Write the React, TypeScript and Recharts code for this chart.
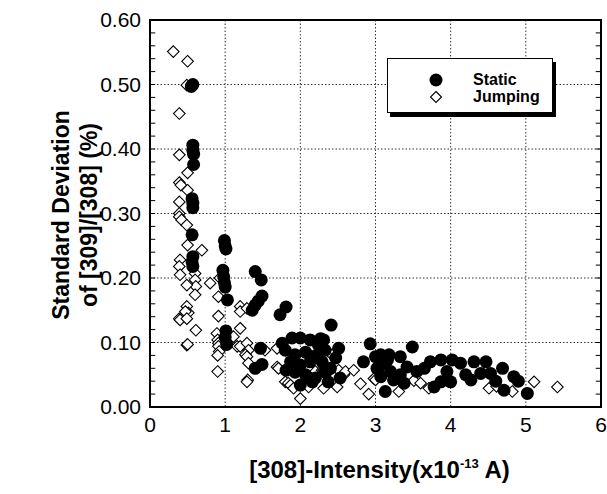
import React from 'react';
import { ScatterChart, Scatter, XAxis, YAxis, CartesianGrid, Legend, Label, ReferenceLine, ReferenceArea } from 'recharts';

const seriesNames = ['Static', 'Jumping'];

const staticX = [
  0.57, 0.55, 0.57, 0.57, 0.58, 0.58, 0.56, 0.57, 0.57, 0.56, 0.57, 0.56, 0.57,
  0.99, 1.0, 1.01, 0.97, 0.98, 0.99, 1.0, 1.03, 1.01, 1.0, 1.02,
  1.4, 1.48, 1.49, 1.44, 1.4, 1.36, 1.81, 1.73, 1.47, 1.49, 1.4,
  1.76, 1.89, 2.0, 2.13, 2.24, 1.8, 1.93, 2.07, 2.2, 2.33, 1.87, 2.0, 2.13, 2.29, 2.47,
  1.93, 2.07, 2.2, 2.33, 2.0, 2.16, 2.37, 1.81, 2.53, 2.41, 2.27, 2.51, 2.31, 2.4, 2.09,
  2.84, 2.93, 3.0, 3.07, 3.16, 3.07, 3.18, 3.33, 3.49, 3.13, 3.2, 3.33, 3.42, 3.02, 3.07,
  3.24, 3.38, 3.55, 3.65, 3.73, 3.87, 4.02, 4.13, 4.31, 4.47, 3.78, 3.87, 4.0, 3.95, 4.2,
  4.27, 4.4, 4.53, 4.6, 4.69, 4.84, 4.71, 4.9, 5.02,
];
const staticY = [
  0.5, 0.497, 0.406, 0.398, 0.392, 0.376, 0.323, 0.316, 0.309, 0.267, 0.233, 0.225, 0.218,
  0.258, 0.25, 0.245, 0.212, 0.202, 0.193, 0.186, 0.166, 0.118, 0.108, 0.097,
  0.21, 0.197, 0.172, 0.164, 0.158, 0.15, 0.155, 0.143, 0.091, 0.066, 0.06,
  0.099, 0.107, 0.107, 0.104, 0.096, 0.088, 0.081, 0.085, 0.079, 0.088, 0.07, 0.065, 0.07, 0.07, 0.076,
  0.054, 0.05, 0.045, 0.054, 0.034, 0.039, 0.039, 0.057, 0.045, 0.127, 0.106, 0.091, 0.104, 0.06, 0.047,
  0.07, 0.098, 0.078, 0.065, 0.073, 0.081, 0.081, 0.078, 0.093, 0.024, 0.055, 0.05, 0.062, 0.06, 0.047,
  0.042, 0.037, 0.055, 0.06, 0.07, 0.073, 0.073, 0.068, 0.07, 0.07, 0.031, 0.039, 0.039, 0.055, 0.05,
  0.042, 0.052, 0.052, 0.04, 0.06, 0.047, 0.026, 0.04, 0.021,
];

const jumpingX = [
  0.31, 0.5, 0.49, 0.39, 0.39, 0.5, 0.39, 0.41, 0.5, 0.39, 0.39, 0.39, 0.42, 0.49, 0.5, 0.69,
  0.4, 0.39, 0.4, 0.6, 0.6, 0.61, 0.49, 0.8, 0.6, 0.91, 0.93, 0.49, 0.51, 0.47, 0.39, 0.4,
  0.49, 0.61, 0.91, 0.49, 0.5, 0.89, 0.9, 0.91, 0.91, 0.92, 0.9, 0.9,
  1.2, 1.2, 1.29, 1.2, 1.11, 1.16, 1.2, 1.29, 1.31, 1.27, 1.29, 1.31, 1.3, 1.29,
  1.53, 1.69, 1.69, 1.71, 1.8, 1.84, 1.87, 1.91, 2.0, 2.11, 2.2, 2.29, 2.31, 2.42, 2.38,
  2.49, 2.31, 2.51, 2.58, 2.6, 2.71, 2.8, 2.91, 2.98, 3.31, 3.51, 3.6, 3.71, 3.0,
  4.51, 4.61, 4.82, 5.11, 5.42,
];
const jumpingY = [
  0.551, 0.536, 0.499, 0.455, 0.391, 0.363, 0.348, 0.344, 0.336, 0.318, 0.3, 0.295, 0.29, 0.282, 0.251, 0.243,
  0.228, 0.218, 0.205, 0.207, 0.197, 0.187, 0.189, 0.192, 0.174, 0.171, 0.2, 0.156, 0.146, 0.148, 0.137, 0.135,
  0.137, 0.119, 0.141, 0.096, 0.097, 0.114, 0.104, 0.099, 0.094, 0.086, 0.08, 0.055,
  0.156, 0.148, 0.153, 0.122, 0.109, 0.094, 0.094, 0.099, 0.088, 0.081, 0.078, 0.068, 0.042, 0.039,
  0.088, 0.091, 0.062, 0.06, 0.039, 0.037, 0.034, 0.029, 0.013, 0.031, 0.055, 0.057, 0.057, 0.081, 0.055,
  0.031, 0.029, 0.057, 0.05, 0.055, 0.057, 0.036, 0.02, 0.044, 0.024, 0.041, 0.037, 0.029, 0.042,
  0.029, 0.032, 0.024, 0.039, 0.031,
];

const xTicks = [0, 1, 2, 3, 4, 5, 6];
const yTicks = [0, 0.1, 0.2, 0.3, 0.4, 0.5, 0.6];
const yMinorTicks = [0.02, 0.04, 0.06, 0.08, 0.1, 0.12, 0.14, 0.16, 0.18, 0.2, 0.22, 0.24, 0.26, 0.28, 0.3,
  0.32, 0.34, 0.36, 0.38, 0.4, 0.42, 0.44, 0.46, 0.48, 0.5, 0.52, 0.54, 0.56, 0.58];
const minorTickLength = 0.07;

const staticData = staticX.map((x, i) => ({ x, y: staticY[i] }));
const jumpingData = jumpingX.map((x, i) => ({ x, y: jumpingY[i] }));

const FONT = '"Liberation Sans", Arial, Helvetica, sans-serif';

const Dot = (p: any) => <circle cx={p.cx} cy={p.cy} r={6.5} fill="#000" />;
const Diamond = (p: any) => {
  const h = 5.8;
  return (
    <polygon
      points={`${p.cx},${p.cy - h} ${p.cx + h},${p.cy} ${p.cx},${p.cy + h} ${p.cx - h},${p.cy}`}
      fill="#fff"
      stroke="#000"
      strokeWidth={1.1}
    />
  );
};

const XTitle = (props: any) => {
  const vb = props.viewBox || {};
  const cx = vb.x + vb.width / 2 + 4;
  return (
    <text x={cx} y={478} textAnchor="middle" fontFamily={FONT} fontWeight="bold" fontSize={24} fill="#000">
      <tspan>[308]-Intensity(x10</tspan>
      <tspan dy={-10} fontSize={13}>-13</tspan>
      <tspan dy={10}> A)</tspan>
    </text>
  );
};

const YTitle = () => {
  const cy = 215;
  return (
    <g fontFamily={FONT} fontWeight="bold" fontSize={23} fill="#000">
      <text x={69} y={cy} textAnchor="middle" transform={`rotate(-90, 69, ${cy})`}>Standard Deviation</text>
      <text x={97} y={cy} textAnchor="middle" transform={`rotate(-90, 97, ${cy})`}>of [309]/[308] (%)</text>
    </g>
  );
};

const LegendBox = () => (
  <div
    style={{
      boxSizing: 'border-box',
      width: 166,
      height: 55,
      border: '1.5px solid #000',
      boxShadow: '3px 4px 0 #000',
      background: '#fff',
      position: 'relative',
      fontFamily: FONT,
      fontWeight: 'bold',
      fontSize: 16,
      color: '#000',
    }}
  >
    <svg width={20} height={40} style={{ position: 'absolute', left: 38, top: 10 }}>
      <circle cx={10} cy={11} r={6.5} fill="#000" />
      <polygon points="10,22.5 15.5,28 10,33.5 4.5,28" fill="#fff" stroke="#000" strokeWidth={1.1} />
    </svg>
    <div style={{ position: 'absolute', left: 85, top: 12, lineHeight: '17px' }}>
      <div>{seriesNames[0]}</div>
      <div>{seriesNames[1]}</div>
    </div>
  </div>
);

export default function App() {
  return (
    <div style={{ position: 'absolute', left: 0, top: 0, background: '#fff' }}>
      <ScatterChart width={607} height={494} margin={{ top: 20, right: 6, bottom: 57, left: 0 }}>
        <CartesianGrid
          stroke="#333"
          strokeDasharray="1.5 2"
          strokeWidth={1}
          horizontalValues={yTicks}
          verticalValues={xTicks}
        />
        <XAxis
          type="number"
          dataKey="x"
          domain={[0, 6]}
          ticks={xTicks}
          allowDataOverflow
          interval={0}
          height={30}
          tickLine={false}
          tickMargin={4}
          tick={{ fontSize: 21, fill: '#000', fontFamily: FONT }}
          axisLine={{ stroke: '#000', strokeWidth: 2 }}
        >
          <Label content={XTitle} />
        </XAxis>
        <YAxis
          type="number"
          dataKey="y"
          domain={[0, 0.6]}
          ticks={yTicks}
          width={150}
          interval={0}
          allowDataOverflow
          tickFormatter={(v: number) => v.toFixed(2)}
          tickLine={false}
          tickMargin={3}
          tick={{ fontSize: 21, fill: '#000', fontFamily: FONT }}
          axisLine={{ stroke: '#000', strokeWidth: 2 }}
        >
          <Label content={YTitle} />
        </YAxis>
        {yMinorTicks.map((v) => (
          <ReferenceLine
            key={`l${v}`}
            segment={[{ x: 0, y: v }, { x: minorTickLength, y: v }]}
            stroke="#000"
            strokeWidth={1}
          />
        ))}
        {yMinorTicks.map((v) => (
          <ReferenceLine
            key={`r${v}`}
            segment={[{ x: 6 - minorTickLength, y: v }, { x: 6, y: v }]}
            stroke="#000"
            strokeWidth={1}
          />
        ))}
        <ReferenceArea x1={0} x2={6} y1={0} y2={0.6} fill="none" fillOpacity={0} stroke="#000" strokeWidth={2} />
        <Legend
          layout="vertical"
          align="center"
          verticalAlign="middle"
          content={LegendBox}
          wrapperStyle={{ left: 387, top: 58, width: 166, height: 55 }}
        />
        <Scatter name={seriesNames[1]} data={jumpingData} shape={Diamond} isAnimationActive={false} />
        <Scatter name={seriesNames[0]} data={staticData} shape={Dot} isAnimationActive={false} />
      </ScatterChart>
    </div>
  );
}
